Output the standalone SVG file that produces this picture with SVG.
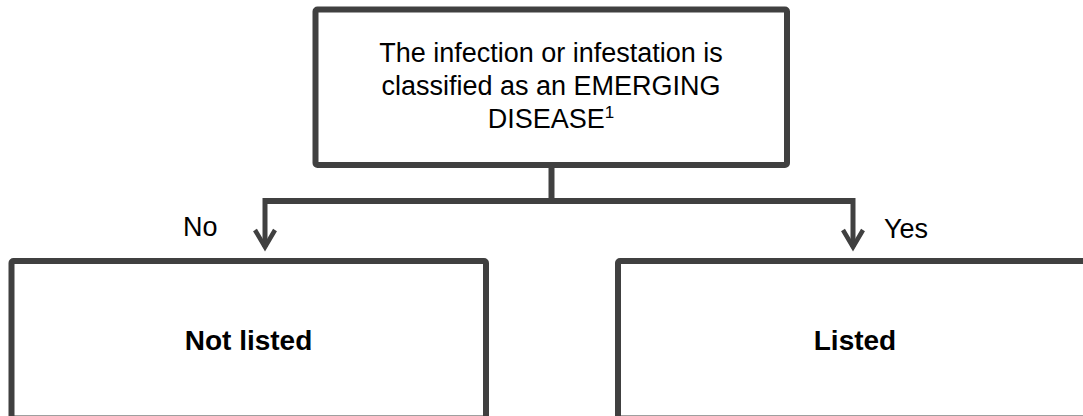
<svg xmlns="http://www.w3.org/2000/svg" width="1083" height="416" viewBox="0 0 1083 416">
<style>
.box{fill:#fff;stroke:#404040;stroke-width:6;stroke-linejoin:round}
.line{fill:none;stroke:#404040;stroke-width:6}
.arrow{fill:none;stroke:#404040;stroke-width:4.5}
.t{font-family:"Liberation Sans",Arial,sans-serif;fill:#000;font-size:27px;text-anchor:middle}
.lbl{font-family:"Liberation Sans",Arial,sans-serif;fill:#000;font-size:27px}
.b{font-weight:bold;font-size:28px}
</style>
<rect width="1083" height="416" fill="#fff"/>
<g id="connectors">
<line class="line" x1="551.5" y1="165" x2="551.5" y2="201"/>
<polyline class="line" points="265,201 853,201"/>
<line x1="265" y1="198" x2="265" y2="247" stroke="#404040" stroke-width="5"/>
<line x1="853" y1="198" x2="853" y2="247" stroke="#404040" stroke-width="5"/>
<path d="M255,230 L265,247 L275,230" class="arrow"/>
<path d="M843,230 L853,247 L863,230" class="arrow"/>
<text class="lbl" x="183" y="236">No</text>
<text class="lbl" x="884" y="238">Yes</text>
</g>
<g id="node-question">
<rect class="box" x="315.5" y="9.5" width="471.5" height="155.5" rx="2"/>
<text class="t" x="551" y="62">The infection or infestation is</text>
<text class="t" x="551" y="95">classified as an EMERGING</text>
<text class="t" x="551" y="128">DISEASE<tspan font-size="17" dy="-10">1</tspan></text>
</g>
<g id="node-not-listed">
<rect class="box" x="11.5" y="261" width="474.5" height="157.5" rx="2"/>
<text class="t b" x="248.5" y="350">Not listed</text>
</g>
<g id="node-listed">
<rect class="box" x="618" y="261" width="480" height="157.5" rx="2"/>
<text class="t b" x="855" y="350">Listed</text>
</g>
</svg>
